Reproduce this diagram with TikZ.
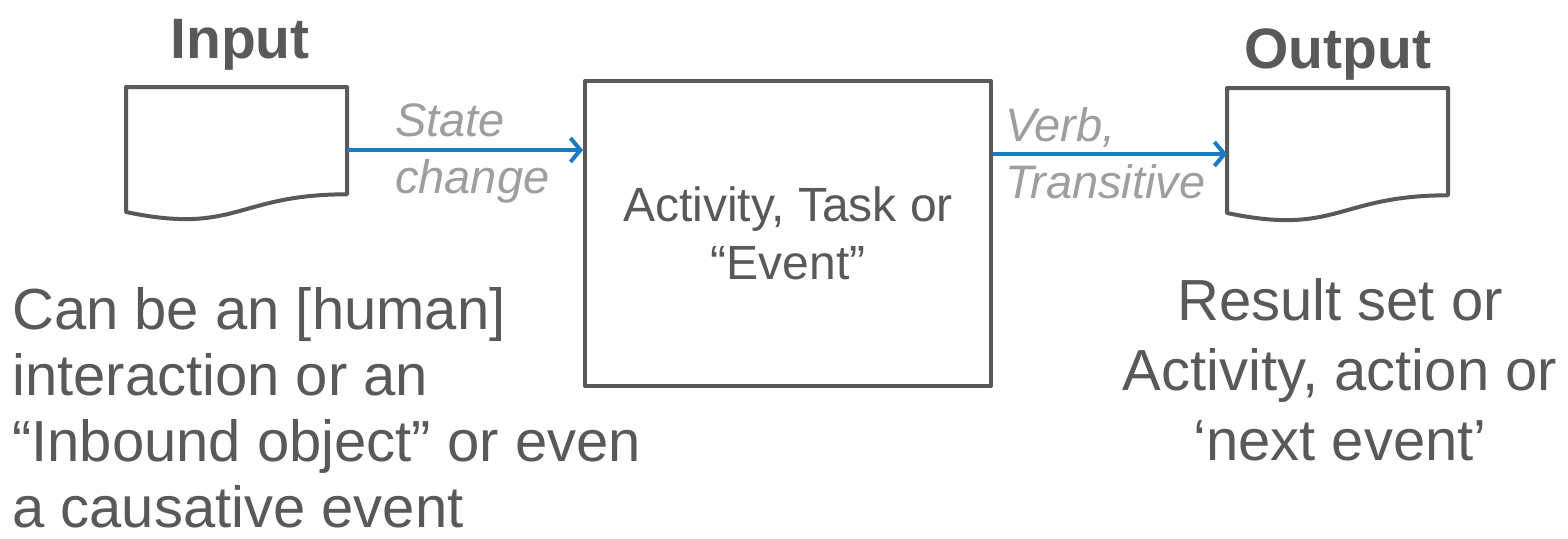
\documentclass[tikz,border=0pt]{standalone}
\usepackage{fontspec}
\setmainfont{Liberation Sans}
\usetikzlibrary{arrows.meta}

\definecolor{ink}{RGB}{89,89,89}
\definecolor{note}{RGB}{158,158,158}
\definecolor{flow}{RGB}{26,122,196}

\tikzset{
  outline/.style={draw=ink, line width=4pt, line join=round, fill=white},
  flowarrow/.style={draw=flow, line width=4pt,
    -{Straight Barb[length=10pt,width=24pt,line width=4pt]}},
  title/.style={text=ink, inner sep=0pt, font=\fontsize{57}{66}\selectfont\bfseries},
  body/.style={text=ink, inner sep=0pt, font=\fontsize{58}{66}\selectfont},
  bodyright/.style={text=ink, inner sep=0pt, font=\fontsize{58}{70}\selectfont},
  boxtext/.style={text=ink, font=\fontsize{48}{58}\selectfont, align=center},
  flowlabel/.style={text=note, inner sep=0pt, align=left,
    font=\fontsize{47}{57}\selectfont\itshape},
}

\begin{document}
\begin{tikzpicture}[x=1pt,y=-1pt]
  \useasboundingbox (0,0) rectangle (1568,538);

  % input document symbol
  \draw[outline] (126,87) -- (347,87) -- (347,194.3)
    .. controls (236.5,194.3) and (236.5,235.2) .. (126,212) -- cycle;
  \coordinate (inport) at (347,150);

  % output document symbol
  \draw[outline] (1227,88) -- (1448,88) -- (1448,195.3)
    .. controls (1337.5,195.3) and (1337.5,236.2) .. (1227,213) -- cycle;
  \coordinate (outport) at (1227,154);

  % central activity box
  \node[outline, boxtext, anchor=north west, inner sep=0pt,
        minimum width=406pt, minimum height=305pt] (act) at (583,79)
        {Activity, Task or\\“Event”};

  % flows
  \draw[flowarrow] (inport) -- (inport -| act.west);
  \draw[flowarrow] (outport -| act.east) -- (outport);

  % flow labels
  \node[flowlabel, anchor=west] (statelbl) at (395,153) {State\\change};
  \node[flowlabel, anchor=west] (verblbl) at (1005,153) {Verb,\\Transitive};

  % titles
  \node[title, anchor=base] (intitle) at (240,58) {Input};
  \node[title, anchor=base] (outtitle) at (1338,68) {Output};

  % descriptions
  \node[body, anchor=north west, align=left] (indesc) at (12,287)
    {Can be an [human]\\interaction or an\\“Inbound object” or even\\a causative event};
  \node[bodyright, anchor=north, align=center] (outdesc) at (1340,278)
    {Result set or\\Activity, action or\\‘next event’};
\end{tikzpicture}
\end{document}
